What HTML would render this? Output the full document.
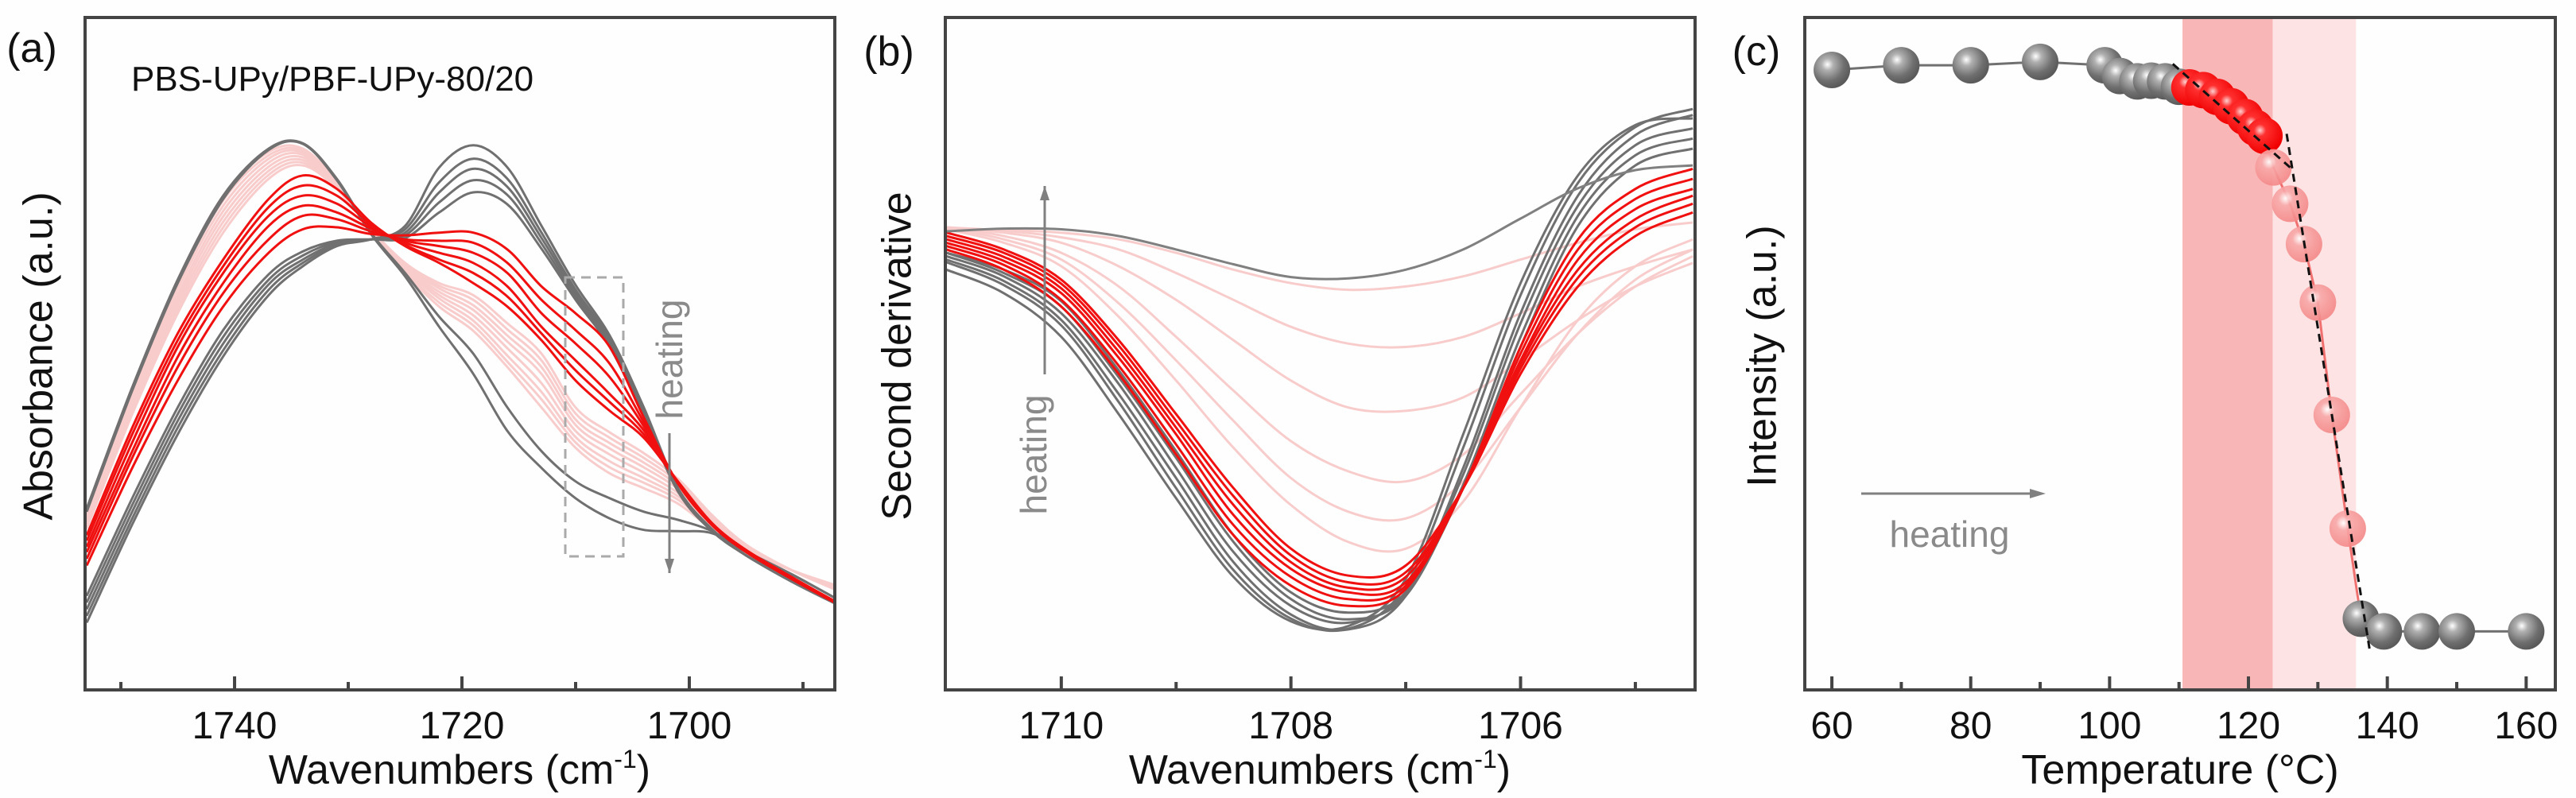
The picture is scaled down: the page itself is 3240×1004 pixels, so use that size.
<!DOCTYPE html>
<html><head><meta charset="utf-8">
<style>
html,body{margin:0;padding:0;background:#fff;}
svg{display:block;font-family:"Liberation Sans",Arial,sans-serif;}
</style></head>
<body>
<svg id="fig" width="3240" height="1004" viewBox="0 0 3240 1004" xmlns="http://www.w3.org/2000/svg">
<defs>
  <radialGradient id="gGray" cx="0.38" cy="0.35" r="0.65">
    <stop offset="0" stop-color="#ffffff"/><stop offset="0.25" stop-color="#b0b0b0"/><stop offset="0.7" stop-color="#6f6f6f"/><stop offset="1" stop-color="#5a5a5a"/>
  </radialGradient>
  <radialGradient id="gRed" cx="0.38" cy="0.35" r="0.65">
    <stop offset="0" stop-color="#ffd0d0"/><stop offset="0.25" stop-color="#ff3030"/><stop offset="1" stop-color="#f00000"/>
  </radialGradient>
  <radialGradient id="gPink" cx="0.38" cy="0.35" r="0.65">
    <stop offset="0" stop-color="#ffffff"/><stop offset="0.3" stop-color="#f8a8a8"/><stop offset="1" stop-color="#f48888"/>
  </radialGradient>
</defs>
<rect width="3240" height="1004" fill="#fefefe"/>
<g id="pa"></g>
<g id="pb"></g>
<g id="pc"></g>
</svg>
<script>
// ---------- Panel (a) data ----------
const waveA = [1753,1749,1745,1741,1737,1734,1731,1728,1725,1722,1719,1716,1713,1710,1707,1704,1701,1698,1695,1691,1687];
const absGrayLow1 = [10,24.6,38,49.6,58.7,63,66,67,69,77.7,81,77.7,69,60.2,52.7,42,30,23.9,20,16.3,12.9];
const absGrayLow2 = [11,25.5,39,50.5,59.5,63.5,66.2,67,68.5,75.5,79,76,68,59.5,52.2,41.5,30,23.9,20,16.3,12.9];
const absGrayLow3 = [12,26.5,40,51.5,60.3,64,66.4,67,68,74,77.5,74.8,67.2,59,51.8,41.2,29.8,23.8,20,16.2,12.8];
const absGrayLow4 = [13,27.5,41,52.5,61,64.6,66.6,67,67.6,72.5,75.8,73.6,66.4,58.5,51.4,41,29.7,23.7,20,16.2,12.8];
const absGrayLow5 = [14,28.5,42,53.5,61.8,65.2,66.8,67,67.2,71,74,72.2,65.6,58,51,40.7,29.5,23.6,20,16.1,12.7];
const absRed1 = [18.5,33,46,57,65,68.5,68.8,67.8,67.6,68,68,65.5,60,56,51,40.5,30.7,24.5,20.5,16.5,12.8];
const absRed2 = [19.5,34.5,48,59,67,70.5,70,68.2,67,66.8,66.5,63.5,58,53.5,48.5,39.8,30.7,24.5,20.5,16.5,12.8];
const absRed3 = [20.5,35.5,49.5,60.5,69,72,71,68.6,66.8,66,65,62,56,51.5,46.5,39.2,30.8,24.6,20.6,16.6,12.9];
const absRed4 = [21.3,36.8,51,62,70.5,73.5,72.3,68.9,66.5,65,63.5,60,54,49,44,38.6,30.8,24.6,20.6,16.7,12.9];
const absRed5 = [22.2,38,52,63,71.8,75,73.5,69.2,66.2,64,62,58.5,53,47.5,42.8,38,30.9,24.7,20.7,16.7,13];
const absRed6 = [23,39,53,64,73,76.5,74.5,69.5,66,63.5,60.5,57,52,46,41.5,37.5,31,24.8,20.8,16.8,13];
const absPink1 = [24,41,56,68,76,78,74.5,68.5,63.5,60.5,58.7,54.5,50,42,38.3,35.2,31.4,26,21.6,17.8,14.8];
const absPink2 = [24.4,41.6,56.7,68.8,76.6,78.4,74.6,68.4,63.3,60.1,58,53.6,49,41.1,37.5,34.5,30.9,25.7,21.5,17.8,14.9];
const absPink3 = [24.8,42.2,57.4,69.6,77.2,78.8,74.8,68.4,63.1,59.7,57.2,52.7,48,40.2,36.7,33.8,30.4,25.4,21.4,17.8,15];
const absPink4 = [25.3,42.8,58.1,70.4,77.8,79.2,74.9,68.3,62.9,59.2,56.5,51.8,47,39.4,35.9,33.1,29.9,25.1,21.3,17.8,15.1];
const absPink5 = [25.7,43.4,58.8,71.2,78.4,79.6,75.1,68.2,62.7,58.7,55.7,50.8,45.6,38.5,35,32.3,29.3,24.8,21.2,17.8,15.2];
const absPink6 = [26.1,44,59.6,72,79,79.9,75.2,68.2,62.5,58.2,54.9,49.7,44.3,37.6,34,31.5,28.8,24.5,21.1,17.8,15.3];
const absPink7 = [26.6,44.5,60.3,72.8,79.5,80.2,75.4,68.1,62.2,57.6,54.2,48.8,43.2,36.8,33.1,30.8,28.3,24.2,20.9,17.8,15.4];
const absPink8 = [27,45,61,73.5,80,80.5,75.5,68,62,57,53.4,48,42,36,32.2,30,27.7,23.9,20.8,17.8,15.5];
const absGrayHigh1 = [27,45,61,73.5,80.5,81.3,76,68,62,55.5,50,42,35.5,31,28.5,26.5,25.3,23.6,20.5,17.2,13.5];
const absGrayHigh2 = [26.5,44.5,60.5,73,80.3,81.2,75.8,67.8,61.5,54,47,38.5,33,28.5,25.5,23.8,23.6,23.3,20.6,17.2,13.5];
const ticksA = [1740,1720,1700];
const minorTicksA = [1750,1730,1710,1690];

// ---------- Panel (b) data ----------
const waveB = [1711,1710.5,1710,1709.5,1709,1708.5,1708,1707.5,1707,1706.5,1706,1705.5,1705,1704.5];
const d2Gray1 = [63.6,60.2,54.2,42.8,30,17.8,10.6,9.1,15.5,36,58.7,75.4,83.7,86.4];
const d2Gray2 = [64,60.8,55,44,31.5,19,11.2,9,14,33,56,73.5,82.5,85.5];
const d2Gray3 = [62.5,59,52.5,41,28.5,16.8,10.2,9.5,16.5,38,60.5,76.5,84,85];
const d2Gray4 = [64.5,61.5,56,45.5,33,20.5,12.5,10,14.5,32,54.5,72,81,83.5];
const d2Gray5 = [65,62,57,46.5,34.5,22,13.5,10.5,14,30.5,52.5,70.5,79.5,82];
const d2Gray6 = [65,62.5,57.8,47.5,35.5,23,14.5,11.5,14.5,30,51,69,78,80.5];
const d2Red1 = [65.5,62.5,57,47,35,23,15.5,12.5,15,30,51,67,74.5,77.5];
const d2Red2 = [66,63.2,58,48.2,36.5,24.5,16.8,13.5,15.5,30,50,65.5,73,76];
const d2Red3 = [66.5,63.8,59,49.4,38,26,18,14.5,16,30,49,64,71.5,74.5];
const d2Red4 = [67,64.4,59.7,50.3,39,27.5,19,15.2,16.8,30,48.5,62.5,70,73.5];
const d2Red5 = [67.5,65,60.4,51.2,40,28.8,20,16,17.5,30,47.8,61.3,68.8,72.3];
const d2Red6 = [68,65.5,61,52,41,30,21,17,18.5,30,47,60,67.5,71];
const d2Pink1 = [68.5,66.5,63,55.5,46,36,27.5,22,21,28,42,55,63,67];
const d2Pink2 = [68.7,67,64,57.5,49,40,31.5,26.5,25.5,31,42,53,61,65.5];
const d2Pink3 = [68.8,67.5,65,60,52.5,44.5,37,32.5,31,35,44,53,60,64.5];
const d2Pink4 = [68.8,68,66.5,63,58,52,46,42,41.5,43.5,49,55,60,63.5];
const d2Pink5 = [68.8,68.3,67.3,65.5,62,58,54,51.5,51,52.5,56,60,63,65.5];
const d2Pink6 = [68.6,68.4,68,67,65,62.5,60.5,59.5,60,61.5,64,66.5,68.5,69.5];
const d2GrayTop = [68.2,68.6,68.5,67.5,65.5,63.3,61.4,61.2,62.5,65.5,70.1,74.6,77.3,78.0];
const ticksB = [1710,1708,1706];
const minorTicksB = [1709,1707,1705];

// ---------- Panel (c) data ----------
const tempGrayA = [60,70,80,90,99.3,101.5,104,106,108,110];
const intGrayA  = [92.2,92.9,92.9,93.4,92.9,91.3,90.5,90.6,90.5,89.7];
const tempRed = [111.5,113.5,115.5,117.5,119.5,121,122.3];
const intRed  = [89.6,89.2,88.2,86.8,85.2,83.6,82.4];
const tempPink = [123.6,126,128,130,132,134.3];
const intPink  = [77.7,72.3,66.3,57.6,40.9,24.0];
const tempGrayB = [136.2,139.5,145,150,160];
const intGrayB  = [10.6,8.7,8.7,8.7,8.7];
const fitT1 = [109.1,126.0];
const fitV1 = [93.1,77.7];
const fitT2 = [125.5,137.5];
const fitV2 = [82.7,5.7];
const bandDark = [110.5,123.5];
const bandLight = [123.5,135.5];
const ticksC = [60,80,100,120,140,160];
const minorTicksC = [70,90,110,130,150];

const NS = "http://www.w3.org/2000/svg";
function mk(parent, tag, attrs){const e=document.createElementNS(NS,tag);for(const k in attrs)e.setAttribute(k,attrs[k]);parent.appendChild(e);return e;}
function smooth(pts){
  let d="M"+pts[0][0].toFixed(1)+","+pts[0][1].toFixed(1);
  for(let i=0;i<pts.length-1;i++){
    const p0=pts[Math.max(0,i-1)],p1=pts[i],p2=pts[i+1],p3=pts[Math.min(pts.length-1,i+2)];
    const c1x=p1[0]+(p2[0]-p0[0])/6,c1y=p1[1]+(p2[1]-p0[1])/6;
    const c2x=p2[0]-(p3[0]-p1[0])/6,c2y=p2[1]-(p3[1]-p1[1])/6;
    d+=" C"+c1x.toFixed(1)+","+c1y.toFixed(1)+" "+c2x.toFixed(1)+","+c2y.toFixed(1)+" "+p2[0].toFixed(1)+","+p2[1].toFixed(1);
  }
  return d;
}
const TOP=22,BOT=868;
function yv(v){return BOT-v*(BOT-TOP)/100;}

function frame(g,x0,x1,ticks,minor,sx,labelFmt){
  const fr=mk(g,"rect",{x:x0,y:TOP,width:x1-x0,height:BOT-TOP,fill:"none",stroke:"#444","stroke-width":4});
  
  
  ticks.forEach(t=>{
    const x=sx(t);
    const tk=mk(g,"line",{x1:x,x2:x,y1:BOT,y2:BOT-17,stroke:"#444","stroke-width":4});
    
    
    const tl=mk(g,"text",{x:x,y:BOT+61,"font-size":48,"text-anchor":"middle",fill:"#111"});
    tl.textContent=labelFmt(t);
    
    
  });
  minor.forEach(t=>{
    const x=sx(t);
    const tk=mk(g,"line",{x1:x,x2:x,y1:BOT,y2:BOT-10,stroke:"#444","stroke-width":4});
    
    
  });
}
function wavTitle(g,cx){
  const t=mk(g,"text",{x:cx,y:BOT+118,"font-size":52,"text-anchor":"middle",fill:"#111"});
  t.innerHTML='Wavenumbers (cm<tspan dy="-20" font-size="32">-1</tspan><tspan dy="20">)</tspan>';
  
  
}
function ylabel(g,cx,cy,txt){
  const t=mk(g,"text",{x:cx,y:cy,"font-size":52,"text-anchor":"middle",fill:"#111",transform:"rotate(-90 "+cx+" "+cy+")","dominant-baseline":"middle"});
  t.textContent=txt;
  
  
}
function plabel(g,x,y,txt){
  const t=mk(g,"text",{x:x,y:y,"font-size":52,"text-anchor":"middle",fill:"#111"});
  t.textContent=txt;
  
  
}
function arrowV(g,x,y1,y2,col){
  const l=mk(g,"line",{x1:x,x2:x,y1:y1,y2:y2,stroke:col,"stroke-width":3});
  
  
  const dir=y2>y1?1:-1;
  const h=mk(g,"polygon",{points:`${x-6},${y2-dir*18} ${x+6},${y2-dir*18} ${x},${y2}`,fill:col});
  
  
}
function vtext(g,x,y,txt){
  const t=mk(g,"text",{x:x,y:y,"font-size":46,"text-anchor":"middle",fill:"#8a8a8a",transform:`rotate(-90 ${x} ${y})`,"dominant-baseline":"middle"});
  t.textContent=txt;
  
  
}

// ---------- Panel A ----------
(function(){
  const g=document.getElementById("pa");
  const X0=107,X1=1050,W0=1753.15,W1=1687.2;
  const sx=w=>X0+(W0-w)*(X1-X0)/(W0-W1);
  const cp=mk(g,"clipPath",{id:"clipA"});mk(cp,"rect",{x:X0,y:TOP,width:X1-X0,height:BOT-TOP});
  const lg=mk(g,"g",{"clip-path":"url(#clipA)"});
  const series=[
    [absPink1,"#f9cccc"],[absPink2,"#f9cccc"],[absPink3,"#f9cccc"],[absPink4,"#f9cccc"],[absPink5,"#f9cccc"],[absPink6,"#f9cccc"],[absPink7,"#f9cccc"],[absPink8,"#f9cccc"],
    [absGrayLow1,"#707070"],[absGrayLow2,"#707070"],[absGrayLow3,"#707070"],[absGrayLow4,"#707070"],[absGrayLow5,"#707070"],
    [absGrayHigh1,"#707070"],[absGrayHigh2,"#707070"],
    [absRed1,"#f01010"],[absRed2,"#f01010"],[absRed3,"#f01010"],[absRed4,"#f01010"],[absRed5,"#f01010"],[absRed6,"#f01010"]
  ];
  series.forEach(([arr,col])=>{
    const p=mk(lg,"path",{d:smooth(waveA.map((w,i)=>[sx(w),yv(arr[i])])),fill:"none",stroke:col,"stroke-width":3});
    
    
  });
  frame(g,X0,X1,ticksA,minorTicksA,sx,t=>String(t));
  wavTitle(g,578);
  ylabel(g,52,448,"Absorbance (a.u.)");
  plabel(g,40,78,"(a)");
  const tt=mk(g,"text",{x:165,y:114,"font-size":44,fill:"#111"});
  tt.textContent="PBS-UPy/PBF-UPy-80/20";
  
  
  const box=mk(g,"rect",{x:711,y:349,width:73,height:351,fill:"none",stroke:"#aaa","stroke-width":3,"stroke-dasharray":"12 8"});
  
  
  arrowV(g,842,545,721,"#808080");
  vtext(g,846,452,"heating");
})();

// ---------- Panel B ----------
(function(){
  const g=document.getElementById("pb");
  const X0=1189,X1=2132,W0=1711.01,W1=1704.48;
  const sx=w=>X0+(W0-w)*(X1-X0)/(W0-W1);
  const cp=mk(g,"clipPath",{id:"clipB"});mk(cp,"rect",{x:X0,y:TOP,width:X1-X0,height:BOT-TOP});
  const lg=mk(g,"g",{"clip-path":"url(#clipB)"});
  const series=[
    [d2Pink1,"#f9cccc"],[d2Pink2,"#f9cccc"],[d2Pink3,"#f9cccc"],[d2Pink4,"#f9cccc"],[d2Pink5,"#f9cccc"],[d2Pink6,"#f9cccc"],
    [d2Gray1,"#707070"],[d2Gray2,"#707070"],[d2Gray3,"#707070"],[d2Gray4,"#707070"],[d2Gray5,"#707070"],[d2Gray6,"#707070"],
    [d2Red1,"#f01010"],[d2Red2,"#f01010"],[d2Red3,"#f01010"],[d2Red4,"#f01010"],[d2Red5,"#f01010"],[d2Red6,"#f01010"],
    [d2GrayTop,"#808080"]
  ];
  series.forEach(([arr,col])=>{
    const p=mk(lg,"path",{d:smooth(waveB.map((w,i)=>[sx(w),yv(arr[i])])),fill:"none",stroke:col,"stroke-width":3});
    
    
  });
  frame(g,X0,X1,ticksB,minorTicksB,sx,t=>String(t));
  wavTitle(g,1660);
  ylabel(g,1132,448,"Second derivative");
  plabel(g,1118,82,"(b)");
  arrowV(g,1314,471,234,"#808080");
  vtext(g,1304,572,"heating");
})();

// ---------- Panel C ----------
(function(){
  const g=document.getElementById("pc");
  const X0=2270,X1=3214,T0=56.1,T1=164.2;
  const sx=t=>X0+(t-T0)*(X1-X0)/(T1-T0);
  [[bandDark,"#f9b6b6","band-dark"],[bandLight,"#fde3e3","band-light"]].forEach(([b,c,n])=>{
    const r=mk(g,"rect",{x:sx(b[0]),y:TOP,width:sx(b[1])-sx(b[0]),height:BOT-TOP,fill:c});
    
    
  });
  const lineOf=(ts,vs,col)=>{
    const p=mk(g,"polyline",{points:ts.map((t,i)=>sx(t)+","+yv(vs[i])).join(" "),fill:"none",stroke:col,"stroke-width":3});
    
    
  };
  lineOf(tempGrayA.concat([tempRed[0]]),intGrayA.concat([intRed[0]]),"#707070");
  lineOf([tempRed[tempRed.length-1]].concat(tempPink,[tempGrayB[0]]),[intRed[intRed.length-1]].concat(intPink,[intGrayB[0]]),"#f07070");
  lineOf(tempGrayB,intGrayB,"#707070");
  const dots=(ts,vs,fill,op,name)=>ts.forEach((t,i)=>{
    const c=mk(g,"circle",{cx:sx(t),cy:yv(vs[i]),r:23,fill:fill,"fill-opacity":op});
    
    
  });
  dots(tempGrayA,intGrayA,"url(#gGray)",1,"point-gray");
  dots(tempRed,intRed,"url(#gRed)",1,"point-red");
  dots(tempPink,intPink,"url(#gPink)",0.9,"point-pink");
  dots(tempGrayB,intGrayB,"url(#gGray)",1,"point-gray");
  [[fitT1,fitV1],[fitT2,fitV2]].forEach(([ts,vs])=>{
    const l=mk(g,"line",{x1:sx(ts[0]),y1:yv(vs[0]),x2:sx(ts[1]),y2:yv(vs[1]),stroke:"#111","stroke-width":3,"stroke-dasharray":"10 7"});
    
    
  });
  frame(g,X0,X1,ticksC,minorTicksC,sx,t=>String(t));
  const xt=mk(g,"text",{x:2742,y:BOT+118,"font-size":52,"text-anchor":"middle",fill:"#111"});
  xt.textContent="Temperature (°C)";
  
  
  ylabel(g,2220,448,"Intensity (a.u.)");
  plabel(g,2209,82,"(c)");
  const al=mk(g,"line",{x1:2341,x2:2556,y1:621,y2:621,stroke:"#808080","stroke-width":3});
  
  
  const ah=mk(g,"polygon",{points:"2553,615 2553,627 2573,621",fill:"#808080"});
  
  
  const ht=mk(g,"text",{x:2452,y:688,"font-size":46,"text-anchor":"middle",fill:"#8a8a8a"});
  ht.textContent="heating";
  
  
})();
</script>
</body></html>
